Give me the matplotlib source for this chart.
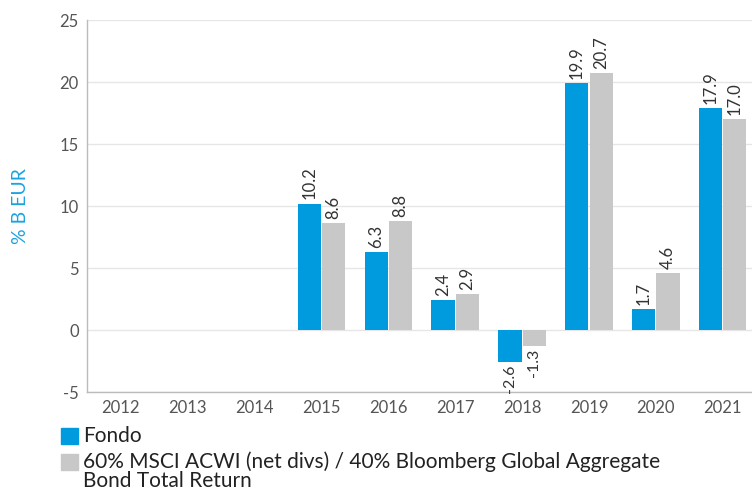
import numpy as np
import matplotlib.pyplot as plt
from matplotlib.patches import Rectangle

years = ["2012", "2013", "2014", "2015", "2016", "2017", "2018", "2019", "2020", "2021"]
fondo = [None, None, None, 10.2, 6.3, 2.4, -2.6, 19.9, 1.7, 17.9]
bench = [None, None, None, 8.6, 8.8, 2.9, -1.3, 20.7, 4.6, 17.0]
fondo_name = "Fondo"
bench_name = "60% MSCI ACWI (net divs) / 40% Bloomberg Global Aggregate\nBond Total Return"

blue = "#009ADE"
grey = "#C8C8C8"
txt = "#555555"

plt.rcParams["font.family"] = ["Lato", "DejaVu Sans"]
plt.rcParams["axes.unicode_minus"] = False

fig = plt.figure(figsize=(7.52, 4.90), dpi=100)
ax = fig.add_axes([0.1157, 0.2, 0.89, 0.759])

x = np.arange(len(years))
w = 0.345
for i in range(len(years)):
    for val, off, col in ((fondo[i], -w / 2 - 0.008, blue), (bench[i], w / 2 + 0.008, grey)):
        if val is None:
            continue
        ax.bar(x[i] + off, val, width=w, color=col, zorder=3)
        if val >= 0:
            ax.text(x[i] + off, val + 0.35, f"{val:.1f}", rotation=90, ha="center", va="bottom",
                    fontsize=12, color="#333333")
        else:
            ax.text(x[i] + off, val - 0.2, f"{val:.1f}", rotation=90, ha="center", va="top",
                    fontsize=11.5, color="#333333")

ax.set_xlim(-0.5, 9.5)
ax.set_ylim(-5, 25)
ax.set_yticks(range(-5, 26, 5))
ax.set_xticks(x)
ax.set_xticklabels(years)
ax.yaxis.grid(True, color="#E6E6E6", linewidth=1, zorder=0)
ax.tick_params(axis="both", length=0, labelsize=12, colors=txt, pad=6)
for s in ("top", "right"):
    ax.spines[s].set_visible(False)
for s in ("left", "bottom"):
    ax.spines[s].set_color("#BBBBBB")
    ax.spines[s].set_linewidth(1)
ax.set_ylabel("% B EUR", color="#1AA3E0", fontsize=14, labelpad=22)

# legend drawn by hand below the plot
fig.patches.append(Rectangle((61 / 752, 1 - 444 / 490), 17 / 752, 16 / 490,
                             transform=fig.transFigure, color=blue))
fig.text(83 / 752, 1 - 436 / 490, fondo_name, fontsize=15, color="#222222", va="center")
fig.patches.append(Rectangle((61 / 752, 1 - 470 / 490), 17 / 752, 16 / 490,
                             transform=fig.transFigure, color=grey))
fig.text(83 / 752, 1 - 451 / 490, bench_name, fontsize=15, color="#222222", va="top",
         linespacing=0.98)

fig.savefig("out.png", dpi=100)
